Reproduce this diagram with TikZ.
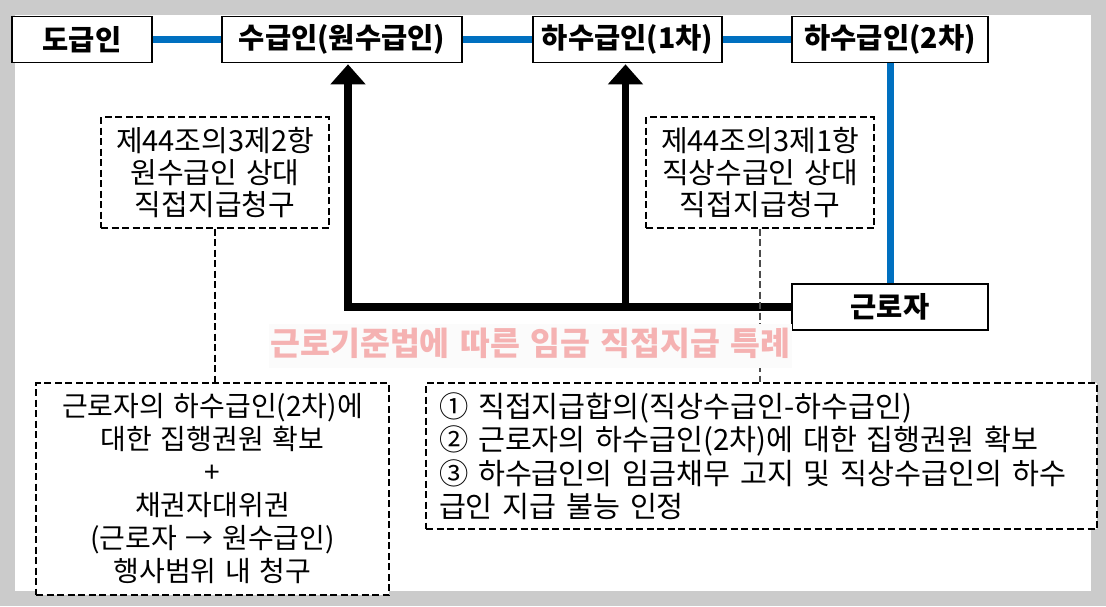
\documentclass[tikz,border=0pt]{standalone}
\usepackage{fontspec}
\setmainfont{Noto Sans CJK KR}[WordSpace=1.4]
\usetikzlibrary{arrows.meta}
\definecolor{framegray}{RGB}{203,203,203}
\definecolor{linkblue}{RGB}{0,112,192}
\definecolor{pinktext}{RGB}{245,178,178}
\definecolor{faintbg}{RGB}{251,251,251}
\tikzset{
  partybox/.style={draw=black, line width=1.8pt, fill=white, minimum height=46pt, inner sep=0pt,
    font=\fontsize{28.5}{30}\selectfont\bfseries},
  notebox/.style={draw=black, line width=1.1pt, dash pattern=on 7pt off 3.5pt, fill=white, inner sep=0pt},
  bluelink/.style={linkblue, line width=7pt},
  bigarrow/.style={black, line width=7.5pt, line join=miter, -{Triangle[width=34pt,length=20pt]}},
  bigline/.style={black, line width=7.5pt},
  guide/.style={line width=1.1pt, dash pattern=on 7pt off 3.5pt},
}
\begin{document}
\begin{tikzpicture}[x=1pt,y=-1pt]
\fill[framegray] (0,0) rectangle (1106,606);
\fill[white] (15,15) rectangle (1091,591);
\useasboundingbox (0,0) rectangle (1106,606);

% top row
\node[partybox, minimum width=140pt] (do) at (82,39.5) {도급인};
\node[partybox, minimum width=240pt] (su) at (342,39.5) {수급인(원수급인)};
\node[partybox, minimum width=189pt] (ha1) at (627.5,39.5) {하수급인(1차)};
\node[partybox, minimum width=196pt] (ha2) at (890,39.5) {하수급인(2차)};
\node[partybox, minimum width=196pt] (gun) at (890,307) {근로자};

\draw[bluelink] (do.east) -- (su.west);
\draw[bluelink] (su.east) -- (ha1.west);
\draw[bluelink] (ha1.east) -- (ha2.west);
\draw[bluelink] (ha2.south) -- (gun.north);

% black arrows
\coordinate (a1) at ([xshift=6pt,yshift=-0.9pt]su.south);
\coordinate (a2) at ([xshift=-2pt,yshift=-0.9pt]ha1.south);
\coordinate (j1) at (a1 |- gun.west);
\coordinate (j2) at (a2 |- gun.west);
\draw[bigline] (gun.west) -- ([xshift=-3.75pt]j1);
\draw[bigarrow] ([yshift=3.75pt]j1) -- (a1);
\draw[bigarrow] ([yshift=3.75pt]j2) -- (a2);

% upper note boxes
\node[notebox, minimum width=228pt, minimum height=111pt, align=center,
  font=\fontsize{29}{32}\selectfont] (n1) at (215,172.5)
  {제44조의3제2항\\원수급인 상대\\직접지급청구};
\node[notebox, minimum width=228pt, minimum height=111pt, align=center,
  font=\fontsize{29}{32}\selectfont] (n2) at (760,172.5)
  {제44조의3제1항\\직상수급인 상대\\직접지급청구};

% lower note boxes
\node[notebox, minimum width=353pt, minimum height=212pt, align=center,
  font=\fontsize{28}{33}\selectfont] (bl) at (212.5,489)
  {근로자의 하수급인(2차)에\\대한 집행권원 확보\\+\\채권자대위권\\(근로자 → 원수급인)\\행사범위 내 청구};
\node[notebox, minimum width=671pt, minimum height=146pt, align=left, inner xsep=13pt,
  text width=645pt, font=\fontsize{29.3}{33.5}\selectfont] (br) at (761.5,456)
  {① 직접지급합의(직상수급인-하수급인)\\② 근로자의 하수급인(2차)에 대한 집행권원 확보\\③ 하수급인의 임금채무 고지 및 직상수급인의 하수\\급인 지급 불능 인정};

\draw[guide] (n1.south) -- (n1.south |- bl.north);
\draw[guide, black!70] (n2.south) -- (n2.south |- br.north);

% title
\fill[faintbg] (269,324) rectangle (792,368);
\node[text=pinktext, inner sep=0pt,
  font=\fontsize{32.5}{34}\selectfont\bfseries] (title) at (530.5,343) {근로기준법에 따른 임금 직접지급 특례};
\end{tikzpicture}
\end{document}
